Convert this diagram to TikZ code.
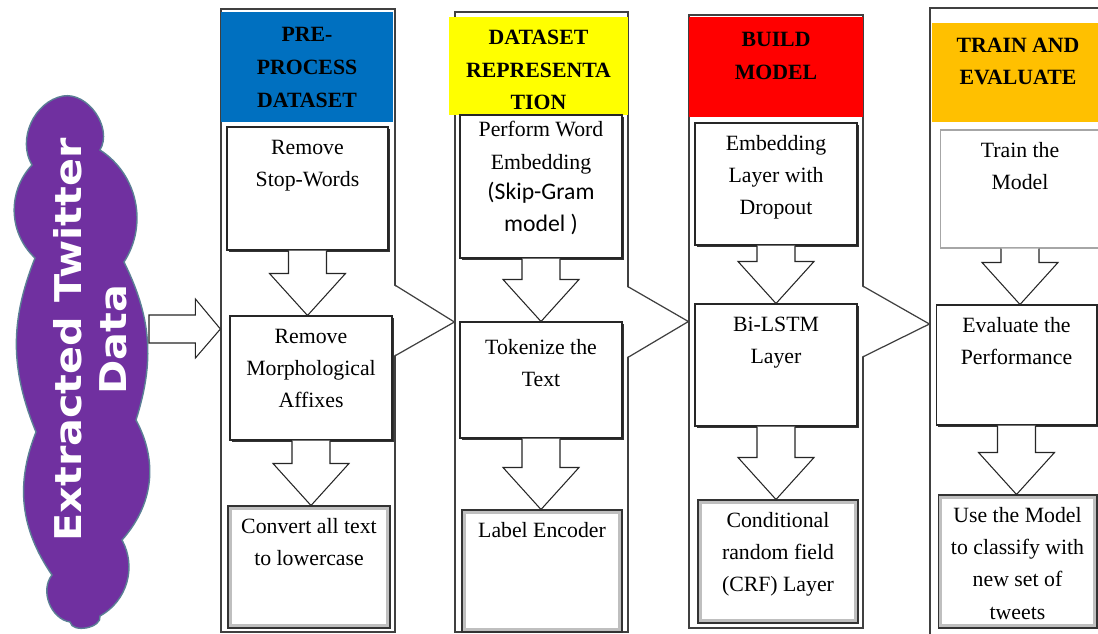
\documentclass[tikz,border=0pt]{standalone}
\usepackage{fontspec}
\setmainfont{Liberation Serif}
\setsansfont{Carlito}
\newfontfamily\cloudfont{DejaVu Sans}
\usetikzlibrary{shadows,calc}

\definecolor{hblue}{HTML}{0070C0}
\definecolor{hyellow}{HTML}{FFFF00}
\definecolor{hred}{HTML}{FF0000}
\definecolor{horange}{HTML}{FFC000}
\definecolor{cloudpurple}{HTML}{7030A0}
\definecolor{cloudedge}{HTML}{5B7F95}

\def\pxu{0.02cm}
\newcommand{\cell}[4][15.5pt]{\parbox[c][#3][t]{#2}{\centering\rule{0pt}{#1}#4}}
\newcommand{\fatdown}[2]{%
  \draw[fatarrow] let \p1=(#1.south), \p2=(#2.north) in
    (\x1-19*\pxu,\y1) -- (\x1-19*\pxu,\y2+42*\pxu) -- (\x1-38*\pxu,\y2+42*\pxu) -- (\x1,\y2)
    -- (\x1+38*\pxu,\y2+42*\pxu) -- (\x1+19*\pxu,\y2+42*\pxu) -- (\x1+19*\pxu,\y1);}
\newcommand{\chev}[2]{%
  \fill[white] ([xshift=-1pt,yshift=35*\pxu]#1.east) -- (#2.west) -- ([xshift=-1pt,yshift=-35*\pxu]#1.east) -- cycle;
  \draw[colline] ([yshift=35*\pxu]#1.east) -- (#2.west) -- ([yshift=-35*\pxu]#1.east);}

\begin{document}
\begin{tikzpicture}[x=0.02cm, y=-0.02cm,
    colline/.style = {draw=black!75, line width=0.7pt},
    colbox/.style = {colline, fill=white, inner sep=0pt},
    headbox/.style = {inner sep=0pt, font=\bfseries\fontsize{12.4}{18.7}\selectfont},
    stepbox/.style = {draw=black!85, fill=white, inner sep=0pt, line width=0.6pt,
        drop shadow={shadow xshift=1.3pt, shadow yshift=-1.3pt, fill=black!80, opacity=1},
        font=\fontsize{12.4}{18.4}\selectfont},
    lightbox/.style = {draw=black!35, fill=white, inner sep=0pt, line width=0.6pt,
        font=\fontsize{12.4}{18.4}\selectfont},
    endbox/.style = {draw=black!80, fill=white, inner sep=0pt, line width=0.6pt,
        path picture={\draw[black!25, line width=4pt] (path picture bounding box.south west) rectangle (path picture bounding box.north east);},
        font=\fontsize{12.4}{18.4}\selectfont},
    fatarrow/.style = {draw=black!85, fill=white, line width=0.6pt},
    cloudy/.style = {fill=cloudpurple, draw=cloudedge, line width=0.8pt},
    cloudtext/.style = {rotate=90, xscale=1.12, text=white, align=center, inner sep=0pt,
        font=\cloudfont\bfseries\fontsize{21}{25.5}\selectfont}]
    \clip (0,0) rectangle (1098,633);

    \draw[cloudy] (63,96) to[bend left=65] (100,150) to[bend left=45] (124,262) to[bend left=22] (136,420)
        to[bend left=35] (122,540) to[bend left=45] (100,616) to[bend left=90] (70,622) to[bend left=60] (52,575)
        to[bend left=28] (36,432) to[bend left=22] (35,258) to[bend left=45] (32,165) to[bend left=55] (63,96) -- cycle;
    \node[cloudtext] (ct) at (90,340) {Extracted Twitter\\Data};
    \coordinate (ce) at (149,329);

    \node[colbox, minimum width=3.48cm, minimum height=12.46cm] (c1) at (308,320.5) {};
    \node[colbox, minimum width=3.46cm, minimum height=12.4cm] (c2) at (541.5,322) {};
    \node[colbox, minimum width=3.48cm, minimum height=12.26cm] (c3) at (776,321.5) {};
    \node[colbox, minimum width=3.48cm, minimum height=12.64cm] (c4) at (1017,324) {};

    \chev{c1}{c2}
    \chev{c2}{c3}
    \chev{c3}{c4}

    \draw[fatarrow] let \p1=(ce), \p2=(c1.west) in
        (\x1,\y2+5.5*\pxu) -- (\x2-25*\pxu,\y2+5.5*\pxu) -- (\x2-25*\pxu,\y2+21.5*\pxu) -- (\x2,\y2-8.5*\pxu)
        -- (\x2-25*\pxu,\y2-37.5*\pxu) -- (\x2-25*\pxu,\y2-22.5*\pxu) -- (\x1,\y2-22.5*\pxu) -- cycle;

    \node[headbox, fill=hblue] (h1) at (307,67) {\cell[17pt]{3.44cm}{2.2cm}{PRE-\\PROCESS\\DATASET}};
    \node[headbox, fill=hyellow] (h2) at (538.5,66) {\cell{3.58cm}{1.96cm}{DATASET\\REPRESENTA\\TION}};
    \node[headbox, fill=hred] (h3) at (776,67) {\cell[17pt]{3.48cm}{2.0cm}{BUILD\\MODEL}};
    \node[headbox, fill=horange] (h4) at (1018,72.5) {\cell[16.5pt]{3.44cm}{1.98cm}{TRAIN AND\\EVALUATE}};

    \node[stepbox] (b11) at (307.5,188.5) {\cell{3.22cm}{2.46cm}{Remove\\Stop-Words}};
    \node[stepbox] (b12) at (311,378) {\cell{3.24cm}{2.48cm}{Remove\\Morphological\\Affixes}};
    \node[endbox] (b13) at (309,567) {\cell{3.24cm}{2.44cm}{Convert all text\\to lowercase}};

    \node[stepbox] (b21) at (541,186.5) {\cell[12.5pt]{3.24cm}{2.86cm}{Perform Word\\Embedding\\{\sffamily\fontsize{13.5}{17}\selectfont (Skip-Gram\\model )}}};
    \node[stepbox] (b22) at (541,380) {\cell[18.5pt]{3.24cm}{2.32cm}{Tokenize the\\Text}};
    \node[endbox] (b23) at (542,571) {\cell{3.2cm}{2.44cm}{Label Encoder}};

    \node[stepbox] (b31) at (776,184) {\cell{3.24cm}{2.44cm}{Embedding\\Layer with\\Dropout}};
    \node[stepbox] (b32) at (776,365) {\cell{3.24cm}{2.44cm}{Bi-LSTM\\Layer}};
    \node[endbox] (b33) at (778,561.5) {\cell{3.2cm}{2.46cm}{Conditional\\random field\\(CRF) Layer}};

    \node[lightbox] (b41) at (1020,189) {\cell{3.2cm}{2.36cm}{Train the\\Model}};
    \node[stepbox] (b42) at (1016.5,365) {\cell{3.22cm}{2.4cm}{Evaluate the\\Performance}};
    \node[endbox] (b43) at (1017.5,561.5) {\cell{3.18cm}{2.66cm}{Use the Model\\to classify with\\new set of\\tweets}};

    \fatdown{b11}{b12}
    \fatdown{b12}{b13}
    \fatdown{b21}{b22}
    \fatdown{b22}{b23}
    \fatdown{b31}{b32}
    \fatdown{b32}{b33}
    \fatdown{b41}{b42}
    \fatdown{b42}{b43}
\end{tikzpicture}
\end{document}
